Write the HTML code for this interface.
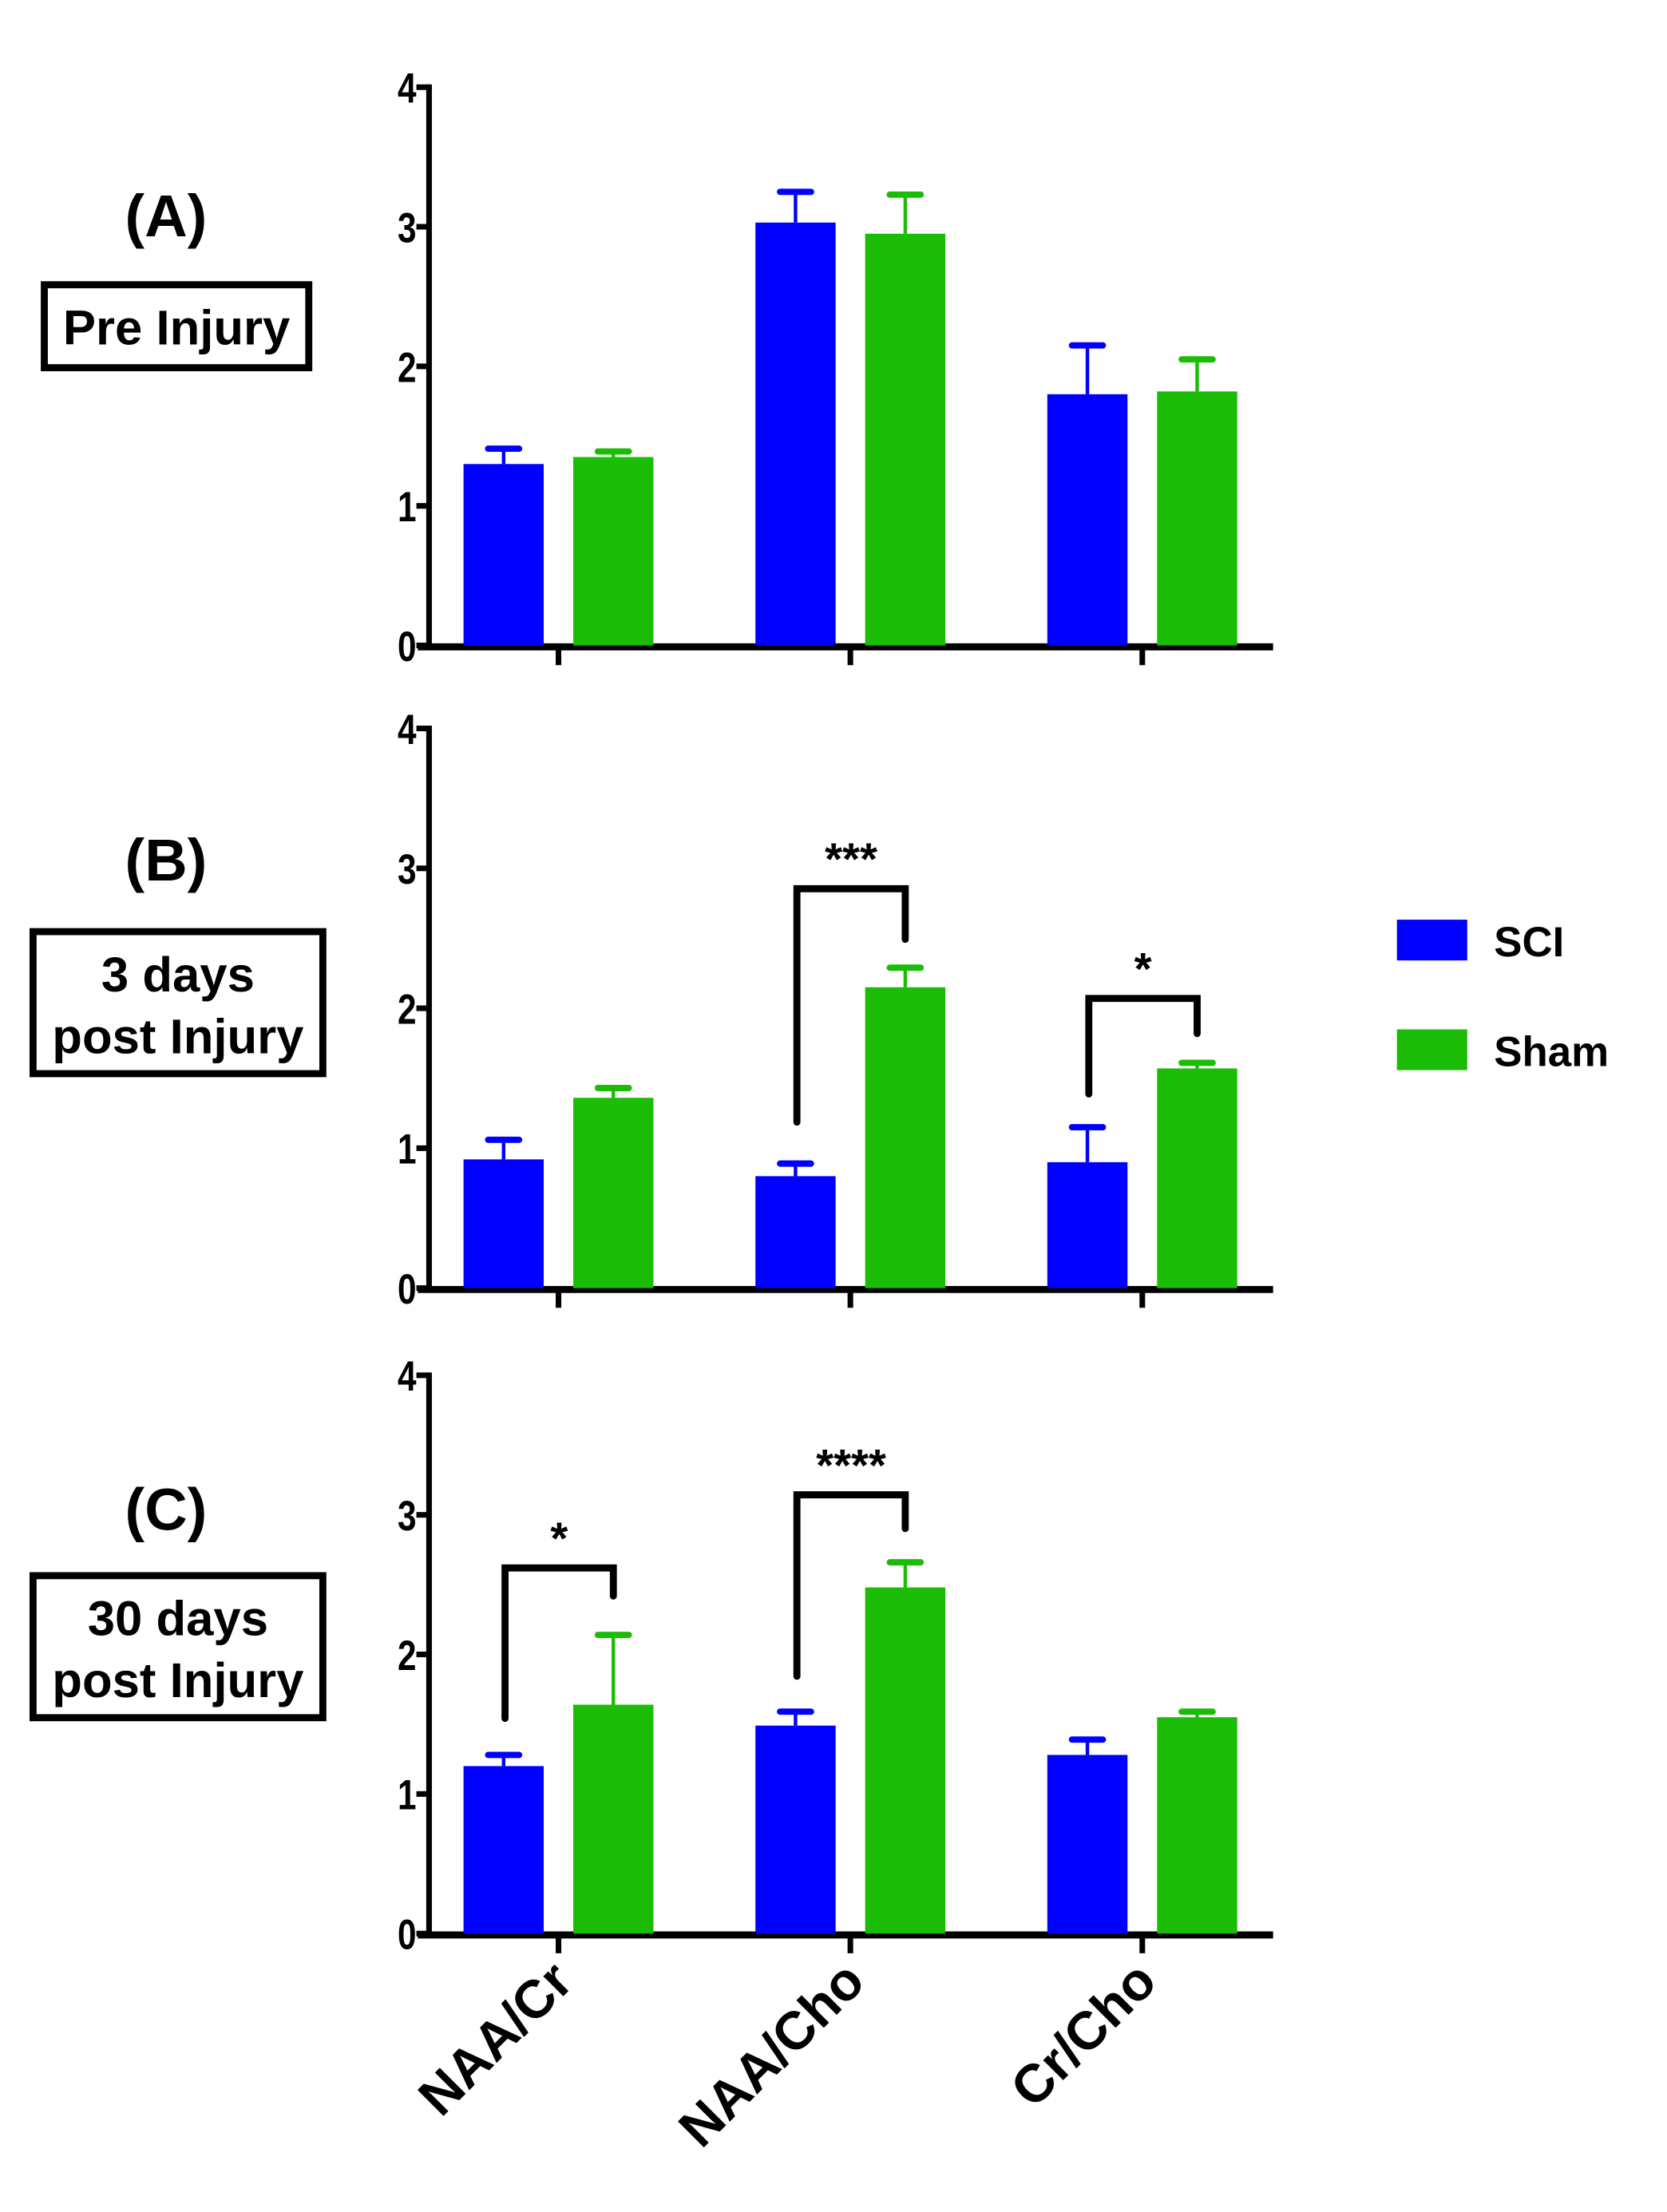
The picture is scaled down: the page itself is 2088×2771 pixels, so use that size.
<!DOCTYPE html>
<html><head><meta charset="utf-8"><style>
html,body{margin:0;padding:0;background:#fff}
svg{display:block}
text{font-family:"Liberation Sans",sans-serif;font-weight:bold;fill:#000}
</style></head><body>
<svg id="chart" width="2088" height="2771" viewBox="0 0 1185 1573" preserveAspectRatio="none" xmlns="http://www.w3.org/2000/svg">
<g id="root"></g>
</svg>
<script>
const categories = ["NAA/Cr", "NAA/Cho", "Cr/Cho"];
const panelLetters = ["(A)", "(B)", "(C)"];
const sciA = [1.30, 3.03, 1.80];
const sciAErr = [0.11, 0.22, 0.35];
const shamA = [1.35, 2.95, 1.82];
const shamAErr = [0.04, 0.28, 0.23];
const sciB = [0.92, 0.80, 0.90];
const sciBErr = [0.14, 0.09, 0.25];
const shamB = [1.36, 2.15, 1.57];
const shamBErr = [0.07, 0.14, 0.04];
const sciC = [1.20, 1.49, 1.28];
const sciCErr = [0.08, 0.10, 0.11];
const shamC = [1.64, 2.48, 1.55];
const shamCErr = [0.50, 0.18, 0.04];
const yTicks = [0, 1, 2, 3, 4];
const legendLabels = ["SCI", "Sham"];

const NS = "http://www.w3.org/2000/svg";
const root = document.getElementById('root');
const BLUE = "#0000ff", GREEN = "#1bbc05";
function mk(tag, attrs, parent) {
  const e = document.createElementNS(NS, tag);
  for (const k in attrs) e.setAttribute(k, attrs[k]);
  (parent || root).appendChild(e);
  return e;
}
const panels = [
  {y0: 459, y4: 62, sci: sciA, se: sciAErr, sh: shamA, she: shamAErr, box: [29, 200, 193, 64], lines: ["Pre Injury"], letterY: 168, sig: []},
  {y0: 916, y4: 518, sci: sciB, se: sciBErr, sh: shamB, she: shamBErr, box: [21, 660, 211, 106], lines: ["3 days", "post Injury"], letterY: 626,
   sig: [{g: 1, ly: 798, ry: 668, top: 632, stars: "***"}, {g: 2, ly: 778, ry: 735, top: 710, stars: "*"}]},
  {y0: 1375, y4: 978, sci: sciC, se: sciCErr, sh: shamC, she: shamCErr, box: [21, 1118, 211, 106], lines: ["30 days", "post Injury"], letterY: 1088,
   sig: [{g: 0, ly: 1222, ry: 1135, top: 1115, stars: "*"}, {g: 1, ly: 1192, ry: 1087, top: 1063, stars: "****"}]}
];
const axisX = 305, axisEnd = 905;
const groupX = i => 397 + i * 207.5;
const barW = 57;

panels.forEach((p, pi) => {
  const yS = v => p.y0 - (p.y0 - p.y4) * v / 4;
  const g = mk('g', {});
  
  
  const ya = mk('line', {x1: axisX, y1: p.y4 - 2, x2: axisX, y2: p.y0 + 2, stroke: '#000', 'stroke-width': 4}, g);
  
  
  yTicks.forEach(t => {
    mk('line', {x1: axisX - 9, y1: yS(t), x2: axisX, y2: yS(t), stroke: '#000', 'stroke-width': 4}, g);
    const tl = mk('text', {x: 0, y: 0, 'text-anchor': 'end', 'font-size': 30, transform: `translate(${axisX - 9},${yS(t) + 11}) scale(0.8,1)`}, g);
    tl.textContent = t;
    
    
  });
  const xa = mk('line', {x1: axisX - 8, y1: p.y0 + 1, x2: axisEnd, y2: p.y0 + 1, stroke: '#000', 'stroke-width': 5}, g);
  
  
  categories.forEach((c, i) => {
    const gx = groupX(i);
    mk('line', {x1: gx, y1: p.y0, x2: gx, y2: p.y0 + 14, stroke: '#000', 'stroke-width': 4}, g);
    [[p.sci[i], p.se[i], BLUE, -39, 'sci'], [p.sh[i], p.she[i], GREEN, 39, 'sham']].forEach(([v, e, col, off, nm]) => {
      const cx = gx + off;
      const r = mk('rect', {x: cx - barW / 2, y: yS(v), width: barW, height: p.y0 - yS(v), fill: col}, g);
      
      
      mk('line', {x1: cx, y1: yS(v), x2: cx, y2: yS(v + e), stroke: col, 'stroke-width': 2.5}, g);
      const cap = mk('line', {x1: cx - 11, y1: yS(v + e), x2: cx + 11, y2: yS(v + e), stroke: col, 'stroke-width': 4.5, 'stroke-linecap': 'round'}, g);
      
      
    });
    if (pi === 2) {
      const xl = mk('text', {x: 0, y: 0, 'text-anchor': 'end', 'font-size': 38, transform: `translate(${gx + 12},${p.y0 + 36}) rotate(-45)`}, g);
      xl.textContent = c;
      
      
    }
  });
  p.sig.forEach(s => {
    const lx = groupX(s.g) - 38, rx = groupX(s.g) + 39;
    const br = mk('path', {d: `M${lx},${s.ly} L${lx},${s.top} L${rx},${s.top} L${rx},${s.ry}`, fill: 'none', stroke: '#000', 'stroke-width': 5, 'stroke-linecap': 'round'}, g);
    
    
    const st = mk('text', {x: (lx + rx) / 2, y: s.top - 10, 'text-anchor': 'middle', 'font-size': 32}, g);
    st.textContent = s.stars;
    
    
  });
  const lt = mk('text', {x: 118, y: p.letterY, 'text-anchor': 'middle', 'font-size': 42}, g);
  lt.textContent = panelLetters[pi];
  
  
  const [bx, by, bw, bh] = p.box;
  const bxr = mk('rect', {x: bx + 2.5, y: by + 2.5, width: bw - 5, height: bh - 5, fill: 'none', stroke: '#000', 'stroke-width': 5}, g);
  
  
  p.lines.forEach((ln, li) => {
    const t = mk('text', {x: bx + bw / 2, y: p.lines.length === 1 ? by + 45 : by + 45 + li * 44, 'text-anchor': 'middle', 'font-size': 35}, g);
    t.textContent = ln;
    
    
  });
});
legendLabels.forEach((l, i) => {
  const y = 654 + i * 78;
  const sw = mk('rect', {x: 993, y: y, width: 50, height: 29, fill: i === 0 ? BLUE : GREEN});
  
  
  const t = mk('text', {x: 1062, y: y + 26, 'font-size': 30});
  t.textContent = l;
  
  
});
</script>
</body></html>
